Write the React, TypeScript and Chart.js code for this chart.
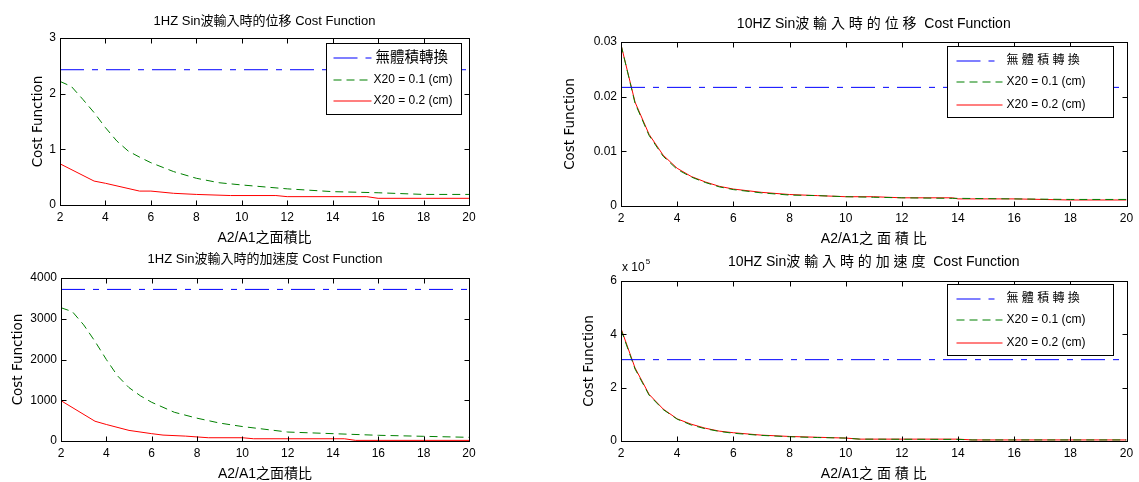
import React, { useEffect, useRef } from "react";
import { Chart, registerables } from "chart.js";

Chart.register(...registerables);

const FONT = "Arial, 'Liberation Sans', 'Noto Sans CJK TC', sans-serif";
const YTITLE_FONT = "'DejaVu Sans', Arial, sans-serif";

// ---- shared axis data ----
const xTickMin = 2;
const xTickMax = 20;
const xTickStep = 2;
const yAxisLabel = "Cost Function";

// ---- top-left: 1Hz displacement ----
const tlTitle = "1HZ Sin波輸入時的位移 Cost Function";
const tlXLabel = "A2/A1之面積比";
const tlLegend = ["無體積轉換", "X20 = 0.1 (cm)", "X20 = 0.2 (cm)"];
const tlBlueX = [2, 20];
const tlBlue = [2.43, 2.43];
const tlGreenX = [2, 2.5, 3, 3.5, 4, 4.5, 5, 5.5, 6, 7, 8, 9, 10, 12, 14, 16, 18, 20];
const tlGreen = [2.22, 2.13, 1.9, 1.66, 1.39, 1.15, 0.97, 0.86, 0.76, 0.6, 0.48, 0.4, 0.36, 0.29, 0.24, 0.22, 0.19, 0.19];
const tlRedX = [2, 3.5, 4, 5.5, 6, 7, 8, 9.5, 11.5, 12, 15.5, 16, 20];
const tlRed = [0.74, 0.43, 0.39, 0.25, 0.25, 0.21, 0.19, 0.17, 0.17, 0.15, 0.15, 0.12, 0.12];

// ---- top-right: 10Hz displacement ----
const trTitle = "10HZ Sin波 輸 入 時 的 位 移  Cost Function";
const trXLabel = "A2/A1之 面 積 比";
const rLegend = ["無 體 積 轉 換", "X20 = 0.1 (cm)", "X20 = 0.2 (cm)"];
const trBlueX = [2, 20];
const trBlue = [0.0217, 0.0217];
const trX = [2, 2.5, 3, 3.5, 4, 4.5, 5, 5.5, 6, 7, 8, 9, 10, 11, 12, 13.8, 14, 16, 18, 20];
const trGreen = [0.0295, 0.0188, 0.0129, 0.0091, 0.0067, 0.0053, 0.0043, 0.0035, 0.003, 0.0024, 0.002, 0.0019, 0.0017, 0.0016, 0.0015, 0.0014, 0.0014, 0.0013, 0.0012, 0.0012];
const trRed = [0.0295, 0.019, 0.0131, 0.0093, 0.0069, 0.0054, 0.0044, 0.0036, 0.0031, 0.0025, 0.0021, 0.0019, 0.0017, 0.0017, 0.0015, 0.0015, 0.0013, 0.0013, 0.0011, 0.0011];

// ---- bottom-left: 1Hz acceleration ----
const blTitle = "1HZ Sin波輸入時的加速度 Cost Function";
const blXLabel = "A2/A1之面積比";
const blBlueX = [2, 20];
const blBlue = [3720, 3720];
const blGreenX = [2, 2.5, 3, 3.5, 4, 4.5, 5, 5.5, 6, 7, 8, 9, 10, 12, 14, 16, 18, 20];
const blGreen = [3270, 3175, 2850, 2445, 2000, 1595, 1310, 1110, 950, 705, 560, 440, 355, 220, 180, 140, 115, 90];
const blRedX = [2, 3.5, 4, 5, 6, 6.5, 7.5, 8.5, 10, 10.5, 14.5, 15, 20];
const blRed = [990, 485, 405, 260, 180, 145, 120, 80, 80, 55, 55, 15, 15];

// ---- bottom-right: 10Hz acceleration ----
const brTitle = "10HZ Sin波 輸 入 時 的 加 速 度  Cost Function";
const brXLabel = "A2/A1之 面 積 比";
const brBlueX = [2, 20];
const brBlue = [305000, 305000];
const brX = [2, 2.5, 3, 3.5, 4, 4.5, 5, 5.5, 6, 7, 8, 9, 10, 10.5, 14, 14.5, 20];
const brGreen = [418000, 270000, 172000, 118000, 82000, 60000, 46000, 36000, 29000, 21000, 16000, 13000, 11000, 7000, 6000, 4000, 4000];
const brRed = [422000, 274000, 175000, 120000, 83000, 63000, 48000, 37000, 31000, 22000, 17000, 14000, 11000, 7000, 7000, 4000, 4000];

const BLUE = "#0000ff";
const GREEN = "#008000";
const RED = "#ff0000";
const BLUE_DASH = [24, 8, 6, 8];
const GREEN_DASH = [8, 5];

const pts = (xs: number[], ys: number[]) => xs.map((x, i) => ({ x, y: ys[i] }));

const framePlugin = {
  id: "matFrame",
  afterDatasetsDraw(chart: any) {
    const { ctx, chartArea: a, scales } = chart;
    const L = Math.round(a.left) + 0.5;
    const R = Math.round(a.right) + 0.5;
    const T = Math.round(a.top) + 0.5;
    const B = Math.round(a.bottom) + 0.5;
    ctx.save();
    ctx.strokeStyle = "#000";
    ctx.lineWidth = 1;
    ctx.setLineDash([]);
    ctx.strokeRect(L, T, R - L, B - T);
    ctx.beginPath();
    scales.x.ticks.forEach((t: any) => {
      const px = Math.round(scales.x.getPixelForValue(t.value)) + 0.5;
      ctx.moveTo(px, B);
      ctx.lineTo(px, B - 5);
      ctx.moveTo(px, T);
      ctx.lineTo(px, T + 5);
    });
    scales.y.ticks.forEach((t: any) => {
      const py = Math.round(scales.y.getPixelForValue(t.value)) + 0.5;
      ctx.moveTo(L, py);
      ctx.lineTo(L + 5, py);
      ctx.moveTo(R, py);
      ctx.lineTo(R - 5, py);
    });
    ctx.stroke();
    ctx.restore();
  },
};

const legendPlugin = {
  id: "boxLegend",
  afterDraw(chart: any, _args: any, opts: any) {
    if (!opts || !opts.show) return;
    const { ctx, chartArea: a } = chart;
    const right = Math.round(a.right - opts.mr) + 0.5;
    const top = Math.round(a.top + opts.mt) + 0.5;
    const left = right - opts.w;
    ctx.save();
    ctx.fillStyle = "#fff";
    ctx.fillRect(left, top, opts.w, opts.h);
    ctx.strokeStyle = "#000";
    ctx.lineWidth = 1;
    ctx.setLineDash([]);
    ctx.strokeRect(left, top, opts.w, opts.h);
    ctx.textBaseline = "middle";
    ctx.textAlign = "left";
    chart.data.datasets.forEach((ds: any, i: number) => {
      const y = Math.round(top + opts.rows[i]);
      ctx.save();
      ctx.beginPath();
      ctx.strokeStyle = ds.borderColor;
      ctx.lineWidth = 1.2;
      ctx.setLineDash(ds.borderDash || []);
      ctx.moveTo(left + opts.s0, y);
      ctx.lineTo(left + opts.s1, y);
      ctx.stroke();
      ctx.restore();
      ctx.fillStyle = "#000";
      const size = opts.sizes ? opts.sizes[i] : 12;
      ctx.font = `${size}px ${FONT}`;
      ctx.fillText(ds.label, left + (opts.txs ? opts.txs[i] : opts.tx), y);
    });
    ctx.restore();
  },
};

const expPlugin = {
  id: "expLabel",
  afterDraw(chart: any, _args: any, opts: any) {
    if (!opts || !opts.show) return;
    const { ctx, chartArea: a } = chart;
    ctx.save();
    ctx.fillStyle = "#000";
    ctx.textBaseline = "middle";
    ctx.textAlign = "left";
    ctx.font = `12px ${FONT}`;
    const base = "x 10";
    const x0 = a.left + 1;
    const y0 = a.top - 13;
    ctx.fillText(base, x0, y0);
    const w = ctx.measureText(base).width;
    ctx.font = `8px ${FONT}`;
    ctx.fillText(opts.exp, x0 + w + 1, y0 - 6);
    ctx.restore();
  },
};

type Cfg = {
  left: number;
  top: number;
  W: number;
  H: number;
  area: { l: number; r: number; t: number; b: number };
  titleY: number;
  yTitleX: number;
  titleSize: number;
  xLabelSize: number;
  title: string;
  xLabel: string;
  labels: string[];
  series: { xs: number[]; ys: number[] }[];
  yMin: number;
  yMax: number;
  yStep: number;
  yFmt: (v: number) => string;
  legend?: any;
  exp?: string;
};

const TICK_SIZE = 12;
const YTITLE_SIZE = 13.5;

function SubChart({ cfg }: { cfg: Cfg }) {
  const ref = useRef<HTMLCanvasElement | null>(null);
  useEffect(() => {
    if (!ref.current) return;
    const lhT = cfg.titleSize * 1.2;
    const lhX = cfg.xLabelSize * 1.2;
    const lhY = YTITLE_SIZE * 1.2;
    const lhTick = TICK_SIZE * 1.2;
    const xTitleY = cfg.area.b + 33;
    const colors = [BLUE, GREEN, RED];
    const dashes = [BLUE_DASH, GREEN_DASH, []];
    const chart = new Chart(ref.current, {
      type: "line",
      data: {
        datasets: cfg.series.map((s, i) => ({
          label: cfg.labels[i],
          data: pts(s.xs, s.ys),
          borderColor: colors[i],
          backgroundColor: colors[i],
          borderWidth: 1,
          borderDash: dashes[i],
          pointRadius: 0,
          tension: 0,
          fill: false,
        })),
      },
      options: {
        responsive: false,
        animation: false,
        events: [],
        layout: { padding: { left: 0, right: cfg.W - cfg.area.r, top: 0, bottom: 0 } },
        plugins: {
          legend: { display: false },
          tooltip: { enabled: false },
          title: {
            display: true,
            text: cfg.title,
            fullSize: false,
            color: "#000",
            font: { family: FONT, size: cfg.titleSize, weight: "normal" },
            padding: { top: cfg.titleY - lhT / 2, bottom: cfg.area.t - cfg.titleY - lhT / 2 },
          },
          boxLegend: cfg.legend ? { show: true, ...cfg.legend } : { show: false },
          expLabel: cfg.exp ? { show: true, exp: cfg.exp } : { show: false },
        } as any,
        scales: {
          x: {
            type: "linear",
            min: xTickMin,
            max: xTickMax,
            grid: { display: false, drawTicks: false },
            border: { display: false },
            ticks: {
              stepSize: xTickStep,
              padding: 13 - lhTick / 2,
              color: "#000",
              font: { family: FONT, size: TICK_SIZE },
              maxRotation: 0,
              autoSkip: false,
              callback: (v: any) => String(v),
            },
            title: {
              display: true,
              text: cfg.xLabel,
              color: "#000",
              font: { family: FONT, size: cfg.xLabelSize },
              padding: { top: 0, bottom: cfg.H - xTitleY - lhX / 2 },
            },
            afterFit: (s: any) => {
              s.height = cfg.H - cfg.area.b;
            },
          },
          y: {
            type: "linear",
            min: cfg.yMin,
            max: cfg.yMax,
            grid: { display: false, drawTicks: false },
            border: { display: false },
            ticks: {
              stepSize: cfg.yStep,
              padding: 4,
              color: "#000",
              font: { family: FONT, size: TICK_SIZE },
              callback: (v: any) => cfg.yFmt(Number(v)),
            },
            title: {
              display: true,
              text: yAxisLabel,
              color: "#000",
              font: { family: YTITLE_FONT, size: YTITLE_SIZE },
              padding: { top: cfg.yTitleX - lhY / 2, bottom: 0 },
            },
            afterFit: (s: any) => {
              s.width = cfg.area.l;
            },
          },
        },
      } as any,
      plugins: [framePlugin, legendPlugin, expPlugin],
    });
    return () => chart.destroy();
  }, [cfg]);
  return (
    <canvas
      ref={ref}
      width={cfg.W}
      height={cfg.H}
      style={{ position: "absolute", left: cfg.left, top: cfg.top, width: cfg.W, height: cfg.H }}
    />
  );
}

const configs: Cfg[] = [
  {
    left: 0, top: 0, W: 540, H: 245,
    area: { l: 60, r: 469, t: 38, b: 205 },
    titleY: 21, yTitleX: 38, titleSize: 13, xLabelSize: 14,
    title: tlTitle, xLabel: tlXLabel, labels: tlLegend,
    series: [{ xs: tlBlueX, ys: tlBlue }, { xs: tlGreenX, ys: tlGreen }, { xs: tlRedX, ys: tlRed }],
    yMin: 0, yMax: 3, yStep: 1, yFmt: (v) => String(v),
    legend: { mr: 8, mt: 5, w: 135, h: 71, rows: [14, 36, 57], s0: 7, s1: 45, txs: [49, 47, 47], sizes: [14.5, 12, 12] },
  },
  {
    left: 540, top: 0, W: 599, H: 245,
    area: { l: 81, r: 587, t: 42, b: 206 },
    titleY: 24, yTitleX: 30, titleSize: 14, xLabelSize: 14,
    title: trTitle, xLabel: trXLabel, labels: rLegend,
    series: [{ xs: trBlueX, ys: trBlue }, { xs: trX, ys: trGreen }, { xs: trX, ys: trRed }],
    yMin: 0, yMax: 0.03, yStep: 0.01, yFmt: (v) => (v === 0 ? "0" : v.toFixed(2)),
    legend: { mr: 14, mt: 4, w: 166, h: 71, rows: [14, 35, 58], s0: 9, s1: 55, tx: 59 },
  },
  {
    left: 0, top: 245, W: 540, H: 237,
    area: { l: 61, r: 469, t: 33, b: 196 },
    titleY: 14, yTitleX: 18, titleSize: 13, xLabelSize: 14,
    title: blTitle, xLabel: blXLabel, labels: tlLegend,
    series: [{ xs: blBlueX, ys: blBlue }, { xs: blGreenX, ys: blGreen }, { xs: blRedX, ys: blRed }],
    yMin: 0, yMax: 4000, yStep: 1000, yFmt: (v) => String(v),
  },
  {
    left: 540, top: 245, W: 599, H: 237,
    area: { l: 81, r: 587, t: 36, b: 196 },
    titleY: 17, yTitleX: 49, titleSize: 14, xLabelSize: 14,
    title: brTitle, xLabel: brXLabel, labels: rLegend,
    series: [{ xs: brBlueX, ys: brBlue }, { xs: brX, ys: brGreen }, { xs: brX, ys: brRed }],
    yMin: 0, yMax: 600000, yStep: 200000, yFmt: (v) => String(Math.round(v / 100000)),
    legend: { mr: 14, mt: 3, w: 166, h: 71, rows: [14, 35, 58], s0: 9, s1: 55, tx: 59 },
    exp: "5",
  },
];

export default function App() {
  return (
    <div style={{ position: "absolute", left: 0, top: 0, width: 1139, height: 482, background: "#fff" }}>
      {configs.map((c, i) => (
        <SubChart key={i} cfg={c} />
      ))}
    </div>
  );
}
